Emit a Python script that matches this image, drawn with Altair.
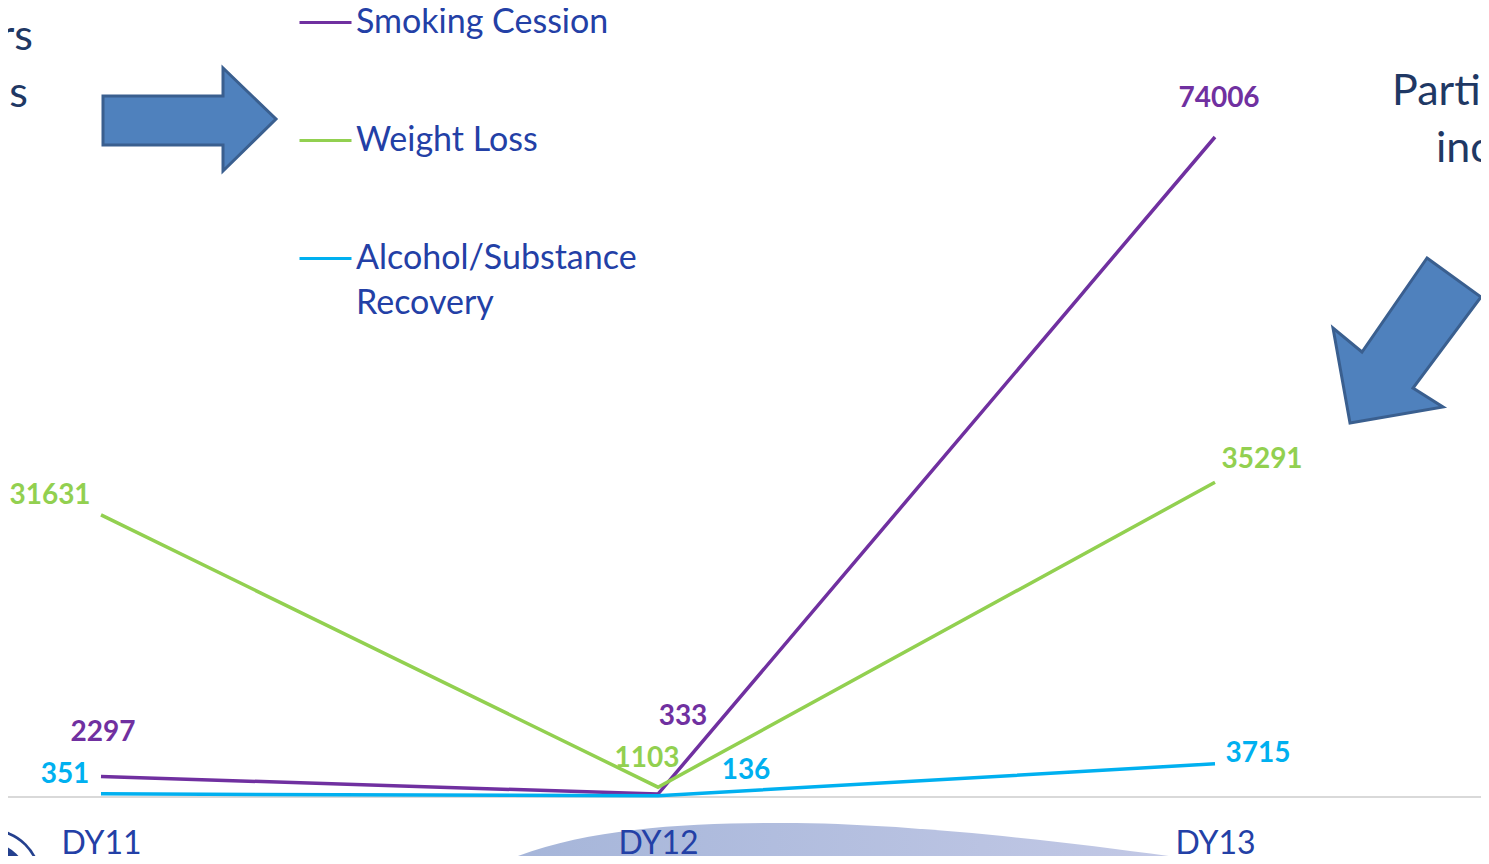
import altair as alt
import pandas as pd

# ---------------- data ----------------
periods = ["DY11", "DY12", "DY13"]
series_names = ["Smoking Cession", "Weight Loss", "Alcohol/Substance Recovery"]
smoking = [2297, 333, 74006]
weight = [31631, 1103, 35291]
alcohol = [351, 136, 3715]
series_colors = ["#7030a0", "#92d050", "#00b0f0"]

rows = []
for name, vals in zip(series_names, [smoking, weight, alcohol]):
    for p, v in zip(periods, vals):
        rows.append({"series": name, "period": p, "value": v})
df = pd.DataFrame(rows)

# label placement (style only): dx, dy from the data point
label_offsets = {
    ("Smoking Cession", "DY11"): (2, -44),
    ("Smoking Cession", "DY12"): (25, -77),
    ("Smoking Cession", "DY13"): (4, -38),
    ("Weight Loss", "DY11"): (-51, -19),
    ("Weight Loss", "DY12"): (-11, -28),
    ("Weight Loss", "DY13"): (47, -22),
    ("Alcohol/Substance Recovery", "DY11"): (-36, -19),
    ("Alcohol/Substance Recovery", "DY12"): (88, -25),
    ("Alcohol/Substance Recovery", "DY13"): (43, -10),
}

FONT = "Lato"
TEXT_BLUE = "#2340a6"
NAVY = "#1f3864"
W, H = 1473, 789

one = pd.DataFrame({"k": [0]})


def shape_path(pts, s):
    parts = []
    for i, (px, py) in enumerate(pts):
        parts.append(("M" if i == 0 else "L") + f"{px / s:.4f},{py / s:.4f}")
    return " ".join(parts) + " Z"


# ---------------- scales / encodings ----------------
x_enc = alt.X(
    "period:N",
    sort=periods,
    scale=alt.Scale(type="point", range=[93, 1207], padding=0),
    axis=alt.Axis(
        title=None, domain=False, ticks=False,
        labelFont=FONT, labelFontSize=32, labelColor=TEXT_BLUE,
        labelPadding=31, labelAngle=0, grid=False, zindex=2,
    ),
)
y_enc = alt.Y("value:Q", scale=alt.Scale(domain=[0, 88470], nice=False), axis=None)
color_scale = alt.Scale(domain=series_names, range=series_colors)

# ---------------- decorations ----------------
S_H = 400.0
hill_path = (
    f"M{-380/S_H:.4f},0 C{-300/S_H:.4f},{-35/S_H:.4f} {-200/S_H:.4f},{-41/S_H:.4f} {-95/S_H:.4f},{-41/S_H:.4f} "
    f"C{50/S_H:.4f},{-41/S_H:.4f} {250/S_H:.4f},{-15/S_H:.4f} {380/S_H:.4f},{5/S_H:.4f} "
    f"L{380/S_H:.4f},{60/S_H:.4f} L{-380/S_H:.4f},{60/S_H:.4f} Z"
)

hill = alt.Chart(one).mark_point(
    shape=hill_path, size=(2 * S_H) ** 2, filled=True, opacity=1,
    strokeWidth=0,
    fill=alt.Gradient(
        gradient="linear", x1=0, x2=1, y1=0, y2=0,
        stops=[alt.GradientStop(color="#a5b5d9", offset=0),
               alt.GradientStop(color="#c6cbe7", offset=1)],
    ),
).encode(x=alt.value(870), y=alt.value(856))

baseline = alt.Chart(one).mark_rule(color="#d9d9d9", strokeWidth=2).encode(
    x=alt.value(0), x2=alt.value(W), y=alt.value(H)
)

logo_outer = alt.Chart(one).mark_point(
    shape="circle", size=10568, filled=True, opacity=1, color="#24408e", strokeWidth=0
).encode(x=alt.value(-18), y=alt.value(872))
logo_ring = alt.Chart(one).mark_point(
    shape="circle", size=9503, filled=True, opacity=1, color="#ffffff", strokeWidth=0
).encode(x=alt.value(-18), y=alt.value(872))
logo_inner = alt.Chart(one).mark_point(
    shape="circle", size=5542, filled=True, opacity=1, color="#24408e", strokeWidth=0
).encode(x=alt.value(-18), y=alt.value(872))

left_arrow_pts = [(-86, -23), (34, -23), (34, -51), (87, 0), (34, 52), (34, 26), (-86, 26)]
right_arrow_pts = [(20, -82), (74, -43), (6, 48), (36, 67), (-57, 83), (-74, -12), (-45, 12)]

left_arrow = alt.Chart(one).mark_point(
    shape=shape_path(left_arrow_pts, 90), size=(2 * 90) ** 2, filled=True, opacity=1,
    fill="#4f81bd", stroke="#3a5f8f", strokeWidth=3,
).encode(x=alt.value(181), y=alt.value(111))
right_arrow = alt.Chart(one).mark_point(
    shape=shape_path(right_arrow_pts, 90), size=(2 * 90) ** 2, filled=True, opacity=1,
    fill="#4f81bd", stroke="#3a5f8f", strokeWidth=3,
).encode(x=alt.value(1399), y=alt.value(332))

side_texts = []
for txt, xx, yy, al in [("Members", 25, 42, "right"), ("Sessions", 20, 99, "right"),
                        ("Participation", 1384, 97, "left"), ("increased", 1428, 154, "left")]:
    side_texts.append(
        alt.Chart(one).mark_text(
            text=txt, font=FONT, fontSize=43, color=NAVY, align=al, baseline="alphabetic"
        ).encode(x=alt.value(xx), y=alt.value(yy))
    )

# ---------------- data marks ----------------
lines = alt.Chart(df).mark_line(strokeWidth=3.5).encode(
    x=x_enc,
    y=y_enc,
    color=alt.Color(
        "series:N", scale=color_scale, sort=series_names,
        legend=alt.Legend(
            title=None, orient="none", legendX=290, legendY=-13,
            symbolType="stroke", symbolSize=2704, symbolStrokeWidth=3,
            labelFont=FONT, labelFontSize=34, labelColor=TEXT_BLUE,
            labelOffset=3, rowPadding=73, padding=0, labelLimit=700,
            labelExpr="datum.label == 'Alcohol/Substance Recovery' ? ['Alcohol/Substance', 'Recovery'] : datum.label",
        ),
    ),
)

label_layers = []
for (s, p), (dx, dy) in label_offsets.items():
    label_layers.append(
        alt.Chart(df).transform_filter(
            (alt.datum.series == s) & (alt.datum.period == p)
        ).mark_text(
            font=FONT, fontSize=28, fontWeight="bold", dx=dx, dy=dy,
            align="center", baseline="middle",
        ).encode(
            x=x_enc, y=y_enc, text=alt.Text("value:Q", format="d"),
            color=alt.Color("series:N", scale=color_scale, legend=None),
        )
    )

chart = alt.layer(
    hill, baseline, logo_outer, logo_ring, logo_inner, left_arrow, right_arrow,
    *side_texts, lines, *label_layers,
).properties(
    width=W, height=H,
    padding={"left": 0, "top": 0, "right": 0, "bottom": 59},
    autosize=alt.AutoSizeParams(type="none"),
).configure(
    style={"guide-label": {"lineHeight": 45}},
    view=alt.ViewConfig(stroke=None),
)

chart.save("out.html", embed_options={"renderer": "svg", "actions": False})
